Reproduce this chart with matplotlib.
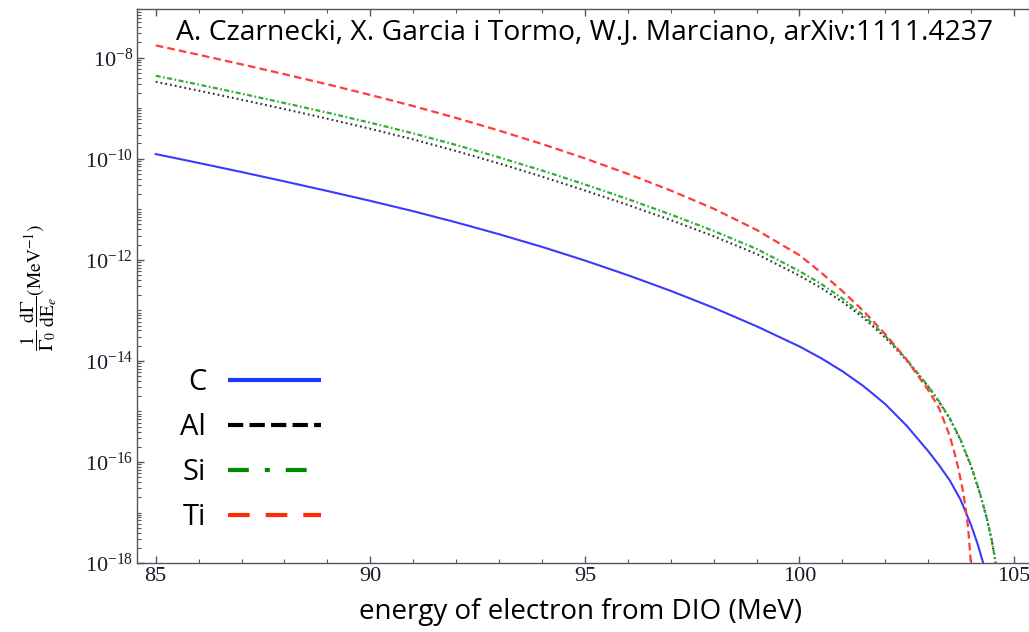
import numpy as np
import matplotlib
matplotlib.use("Agg")
import matplotlib.pyplot as plt
from matplotlib.lines import Line2D
from matplotlib.ticker import FixedLocator, LogLocator, MultipleLocator, NullFormatter, LogFormatterSciNotation

# values: log10 of 1/Gamma0 dGamma/dE (MeV^-1) vs energy (MeV)
energy_c = [85, 86, 87, 88, 89, 90, 91, 92, 93, 94, 95, 96, 97, 98, 99, 100,
            100.5, 101, 101.5, 102, 102.5, 103, 103.25, 103.5, 103.75, 104, 104.15, 104.3, 104.4]
log_rate_c = [-9.91, -10.085, -10.265, -10.45, -10.64, -10.835, -11.04, -11.26, -11.495,
              -11.745, -12.015, -12.305, -12.615, -12.95, -13.315, -13.715, -13.945, -14.205,
              -14.505, -14.855, -15.285, -15.785, -16.06, -16.36, -16.74, -17.25, -17.62,
              -18.05, -18.4]

energy_si = [85, 86, 87, 88, 89, 90, 91, 92, 93, 94, 95, 96, 97, 98, 99, 100,
             100.5, 101, 101.5, 102, 102.5, 103, 103.25, 103.5, 103.75, 104, 104.2, 104.35,
             104.47, 104.56, 104.62]
log_rate_si = [-8.36, -8.535, -8.715, -8.90, -9.09, -9.29, -9.50, -9.73, -9.975, -10.235,
               -10.51, -10.80, -11.105, -11.43, -11.785, -12.225, -12.475, -12.765, -13.105,
               -13.505, -13.975, -14.50, -14.80, -15.13, -15.55, -16.08, -16.60, -17.06,
               -17.50, -17.92, -18.30]

energy_al = [85, 86, 87, 88, 89, 90, 91, 92, 93, 94, 95, 96, 97, 98, 99, 100,
             100.5, 101, 101.5, 102, 102.5, 103, 103.25, 103.5, 103.75, 104, 104.2, 104.35,
             104.47, 104.56, 104.62]
log_rate_al = [-8.48, -8.655, -8.835, -9.02, -9.21, -9.41, -9.62, -9.85, -10.095, -10.355,
               -10.63, -10.915, -11.215, -11.535, -11.885, -12.315, -12.555, -12.83, -13.155,
               -13.54, -13.995, -14.51, -14.81, -15.14, -15.56, -16.09, -16.61, -17.07,
               -17.51, -17.93, -18.31]

energy_ti = [85, 86, 87, 88, 89, 90, 91, 92, 93, 94, 95, 96, 97, 98, 99, 100,
             100.5, 101, 101.5, 102, 102.5, 103, 103.25, 103.5, 103.6, 103.7, 103.8,
             103.87, 103.93, 103.98, 104.02]
log_rate_ti = [-7.76, -7.945, -8.135, -8.33, -8.53, -8.74, -8.96, -9.195, -9.445, -9.71,
               -9.995, -10.30, -10.63, -10.99, -11.41, -11.91, -12.25, -12.62, -13.02,
               -13.47, -13.98, -14.58, -14.93, -15.48, -15.78, -16.12, -16.53, -16.90,
               -17.30, -17.85, -18.35]

labels = ["C", "Al", "Si", "Ti"]
y_ticks = [1e-18, 1e-16, 1e-14, 1e-12, 1e-10, 1e-8]
x_ticks = [85, 90, 95, 100, 105]

plt.rcParams["font.family"] = ["Liberation Serif", "DejaVu Serif"]
plt.rcParams["mathtext.fontset"] = "stix"
plt.rcParams["lines.scale_dashes"] = False

fig = plt.figure(figsize=(10.29, 6.32), dpi=100)
ax = fig.add_axes([0.1334, 0.109, 0.87, 0.8768])

# curves
ax.plot(energy_c, np.power(10.0, log_rate_c), color="#3a3aff", lw=1.5)
ax.plot(energy_al, np.power(10.0, log_rate_al), color="#333333", lw=1.5, dashes=(1.3, 2.2))
ax.plot(energy_si, np.power(10.0, log_rate_si), color="#30b030", lw=1.6, dashes=(3.6, 1.8, 1.2, 1.8))
ax.plot(energy_ti, np.power(10.0, log_rate_ti), color="#ff3b3b", lw=1.6, dashes=(5.5, 3.0))

ax.set_yscale("log")
ax.set_xlim(84.57, 105.43)
ax.set_ylim(1e-18, 10 ** -7.04)

ax.xaxis.set_major_locator(FixedLocator(x_ticks))
ax.xaxis.set_minor_locator(MultipleLocator(1))
ax.yaxis.set_major_locator(FixedLocator(y_ticks))
ax.yaxis.set_major_formatter(LogFormatterSciNotation())
ax.yaxis.set_minor_locator(LogLocator(base=10, subs=np.arange(1, 10), numticks=60))
ax.yaxis.set_minor_formatter(NullFormatter())

ax.tick_params(which="both", direction="in", top=True, right=False, color="#555555",
               labelsize=16, labelcolor="#1a1a2a", pad=3)
ax.tick_params(which="major", length=5, width=1)
ax.tick_params(which="minor", length=3, width=0.8)
for s in ax.spines.values():
    s.set_color("#555555")
    s.set_linewidth(1.0)

ax.set_ylabel(r"$\dfrac{1}{\Gamma_0}\,\dfrac{\mathrm{d}\Gamma}{\mathrm{dE}_e}(\mathrm{MeV}^{-1})$",
              fontsize=14)
ax.yaxis.set_label_coords(-0.087, 0.497)

# legend drawn with thicker proxy lines, labels to the left
handles = [
    Line2D([], [], color="#1a3cff", lw=3.0, solid_capstyle="butt"),
    Line2D([], [], color="#000000", lw=3.0, dashes=(11, 4.5)),
    Line2D([], [], color="#008c00", lw=3.0, dashes=(15, 11.5, 3.6, 11.5)),
    Line2D([], [], color="#ff2a00", lw=3.0, dashes=(15.6, 11.5)),
]
ax.legend(handles, labels, markerfirst=False, frameon=False, loc="center right",
          bbox_to_anchor=(336 / 1029, 1 - 450 / 632), bbox_transform=fig.transFigure,
          prop={"family": "Open Sans", "size": 21}, handlelength=3.2, handletextpad=0.75,
          labelspacing=0.55, borderpad=0)

fig.text(585 / 1029, 1 - 32 / 632,
         "A. Czarnecki, X. Garcia i Tormo, W.J. Marciano, arXiv:1111.4237",
         ha="center", va="center", family="Open Sans", fontsize=20.3)
fig.text(581 / 1029, 1 - 612 / 632, "energy of electron from DIO (MeV)",
         ha="center", va="center", family="Open Sans", fontsize=20)

fig.savefig("out.png", dpi=100)
